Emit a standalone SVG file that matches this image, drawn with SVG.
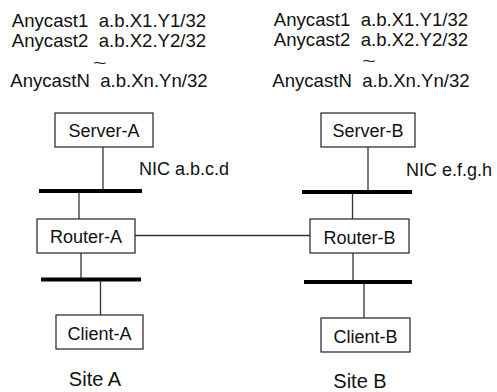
<svg xmlns="http://www.w3.org/2000/svg" width="497" height="392" viewBox="0 0 497 392">
<style>
text{font-family:"Liberation Sans",Arial,Helvetica,sans-serif;font-size:18px;fill:#111}
.c{text-anchor:middle}
.top{font-size:18.6px}
.tl{font-size:14px}
.box{fill:#fff;stroke:#222;stroke-width:1.2}
.ln{stroke:#333;stroke-width:1.3;fill:none}
.bus{stroke:#000;stroke-width:4;fill:none}
.site{font-size:20px}
</style>
<rect width="497" height="392" fill="#fff"/>
<g id="labels-a">
<text class="c top" x="109" y="27">Anycast1&#160; a.b.X1.Y1/32</text>
<text class="c top" x="109" y="47">Anycast2&#160; a.b.X2.Y2/32</text>
<text class="c tl" transform="translate(100,67.5) scale(1.7,1)">~</text>
<text class="c top" x="109" y="87">AnycastN&#160; a.b.Xn.Yn/32</text>
</g>
<g id="labels-b">
<text class="c top" x="371" y="26">Anycast1&#160; a.b.X1.Y1/32</text>
<text class="c top" x="371" y="46">Anycast2&#160; a.b.X2.Y2/32</text>
<text class="c tl" transform="translate(369,66) scale(1.7,1)">~</text>
<text class="c top" x="371" y="87">AnycastN&#160; a.b.Xn.Yn/32</text>
</g>
<g id="connectors">
<line class="ln" x1="103" y1="147" x2="103" y2="191"/>
<line class="ln" x1="79" y1="191" x2="79" y2="219"/>
<line class="ln" x1="81" y1="253" x2="81" y2="279"/>
<line class="ln" x1="100.5" y1="279" x2="100.5" y2="315"/>
<line class="ln" x1="135" y1="235.5" x2="310" y2="235.5"/>
<line class="ln" x1="368" y1="147" x2="368" y2="192"/>
<line class="ln" x1="352.5" y1="192" x2="352.5" y2="219"/>
<line class="ln" x1="353" y1="253" x2="353" y2="282"/>
<line class="ln" x1="364" y1="282" x2="364" y2="318"/>
<line class="bus" x1="39" y1="191" x2="142" y2="191"/>
<line class="bus" x1="41" y1="279.5" x2="141" y2="279.5"/>
<line class="bus" x1="302" y1="192" x2="412" y2="192"/>
<line class="bus" x1="304" y1="282" x2="412" y2="282"/>
</g>
<g id="server-a"><rect class="box" x="55" y="113" width="98" height="34"/><text class="c" x="104" y="137">Server-A</text></g>
<g id="router-a"><rect class="box" x="37" y="219" width="98" height="34"/><text class="c" x="86" y="243">Router-A</text></g>
<g id="client-a"><rect class="box" x="56" y="315" width="87" height="34"/><text class="c" x="99.5" y="340">Client-A</text></g>
<g id="server-b"><rect class="box" x="321" y="113" width="94" height="34"/><text class="c" x="368" y="137">Server-B</text></g>
<g id="router-b"><rect class="box" x="310" y="219" width="99" height="34"/><text class="c" x="359.5" y="244">Router-B</text></g>
<g id="client-b"><rect class="box" x="321" y="318" width="89" height="34"/><text class="c" x="365.5" y="343">Client-B</text></g>
<text x="139" y="175">NIC a.b.c.d</text>
<text x="406" y="176">NIC e.f.g.h</text>
<text class="site c" x="95" y="386">Site A</text>
<text class="site c" x="360" y="388">Site B</text>
</svg>
